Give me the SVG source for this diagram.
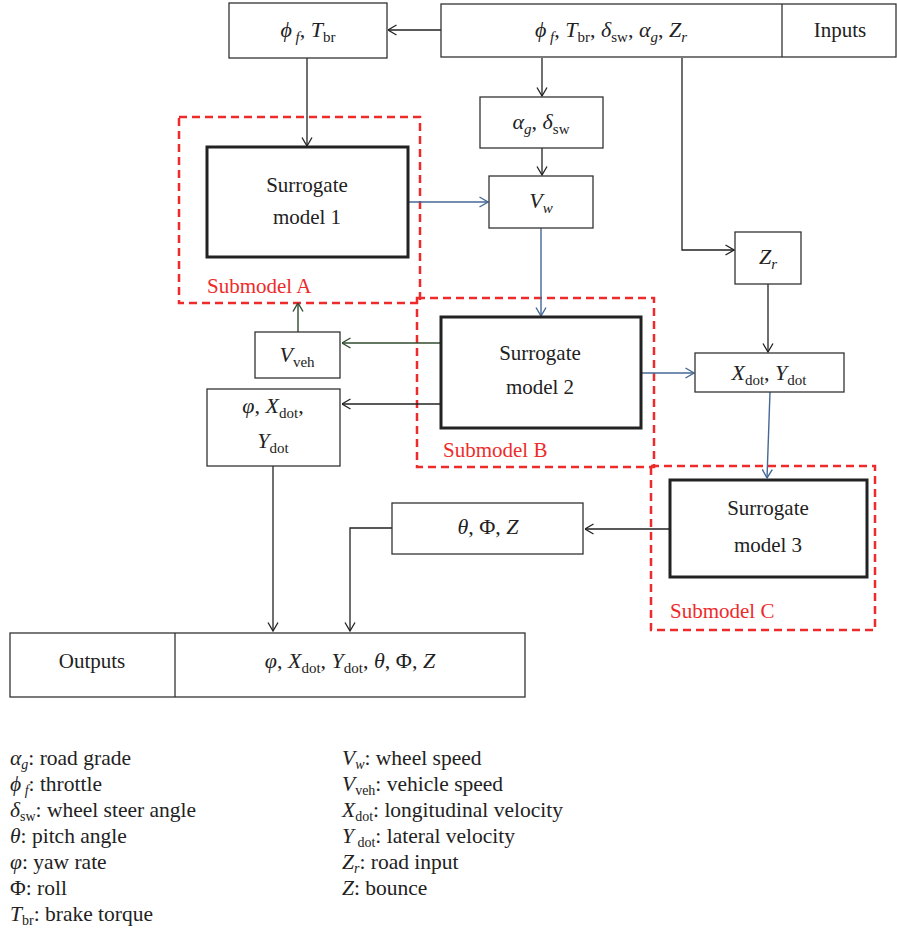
<svg xmlns="http://www.w3.org/2000/svg" width="897" height="934" viewBox="0 0 897 934">
<defs>
<style>
text{font-family:"Liberation Serif","DejaVu Serif",serif;font-size:21px;fill:#222}
.f{font-size:22px}
.i{font-style:italic}
.s{font-size:15px}
.ls{font-size:14px}
.box{fill:#fff;stroke:#333;stroke-width:1.3}
.thick{fill:#fff;stroke:#222;stroke-width:3}
.sub{fill:none;stroke:#ee2b2b;stroke-width:2.5;stroke-dasharray:8,5}
.lbl{fill:#ee2b2b;font-size:21px}
.k{fill:none;stroke:#222;stroke-width:1.3}
.b{fill:none;stroke:#466896;stroke-width:1.4}
.g{fill:none;stroke:#2f4a2f;stroke-width:1.4}
.leg{font-size:21.5px}
</style>
<marker id="ak" viewBox="0 0 10 12" refX="9.5" refY="6" markerWidth="10" markerHeight="12" markerUnits="userSpaceOnUse" orient="auto"><path d="M1,1 L9.5,6 L1,11" fill="none" stroke="#222" stroke-width="1.3"/></marker>
<marker id="ab" viewBox="0 0 10 12" refX="9.5" refY="6" markerWidth="10" markerHeight="12" markerUnits="userSpaceOnUse" orient="auto"><path d="M1,1 L9.5,6 L1,11" fill="none" stroke="#466896" stroke-width="1.4"/></marker>
<marker id="ag" viewBox="0 0 10 12" refX="9.5" refY="6" markerWidth="10" markerHeight="12" markerUnits="userSpaceOnUse" orient="auto"><path d="M1,1 L9.5,6 L1,11" fill="none" stroke="#2f4a2f" stroke-width="1.4"/></marker>
</defs>
<rect width="897" height="934" fill="#fff"/>

<g id="submodels">
<rect class="sub" x="179" y="117" width="241" height="186"/>
<text class="lbl" x="207" y="293">Submodel A</text>
<rect class="sub" x="417" y="298" width="237" height="169"/>
<text class="lbl" x="443" y="457">Submodel B</text>
<rect class="sub" x="651" y="466" width="224" height="164"/>
<text class="lbl" x="670" y="618">Submodel C</text>
</g>

<g id="connectors">
<path class="k" d="M441,30 H388" marker-end="url(#ak)"/>
<path class="k" d="M307,58 V146" marker-end="url(#ak)"/>
<path class="k" d="M542,58 V96" marker-end="url(#ak)"/>
<path class="k" d="M542,148 V175" marker-end="url(#ak)"/>
<path class="k" d="M682,58 V250 H734" marker-end="url(#ak)"/>
<path class="b" d="M408,202 H488" marker-end="url(#ab)"/>
<path class="b" d="M541,228 V316" marker-end="url(#ab)"/>
<path class="g" d="M441,343 H342" marker-end="url(#ag)"/>
<path class="g" d="M298,332 V303" marker-end="url(#ag)"/>
<path class="k" d="M441,404 H342" marker-end="url(#ak)"/>
<path class="b" d="M641,373 H694" marker-end="url(#ab)"/>
<path class="k" d="M768,284 V352" marker-end="url(#ak)"/>
<path class="b" d="M770,392 L767,478" marker-end="url(#ab)"/>
<path class="k" d="M670,529 H585" marker-end="url(#ak)"/>
<path class="k" d="M392,528 H350 V631" marker-end="url(#ak)"/>
<path class="k" d="M273,466 V631" marker-end="url(#ak)"/>
</g>

<g id="phi-tbr">
<rect class="box" x="229" y="3" width="158" height="55"/>
<text class="f" x="308" y="37" text-anchor="middle"><tspan class="i">ϕ</tspan><tspan class="i s" dy="5"> f</tspan><tspan dy="-5">, </tspan><tspan class="i">T</tspan><tspan class="s" dy="5">br</tspan></text>
</g>

<g id="inputs">
<rect class="box" x="441" y="4" width="455" height="53"/>
<line class="box" x1="782" y1="4" x2="782" y2="57"/>
<text class="f" x="611" y="37" text-anchor="middle"><tspan class="i">ϕ</tspan><tspan class="i s" dy="5"> f</tspan><tspan dy="-5">, </tspan><tspan class="i">T</tspan><tspan class="s" dy="5">br</tspan><tspan dy="-5">, </tspan><tspan class="i">δ</tspan><tspan class="s" dy="5">sw</tspan><tspan dy="-5">, </tspan><tspan class="i">α</tspan><tspan class="i s" dy="5">g</tspan><tspan dy="-5">, </tspan><tspan class="i">Z</tspan><tspan class="i s" dy="5">r</tspan></text>
<text x="840" y="37" text-anchor="middle">Inputs</text>
</g>

<g id="alpha-delta">
<rect class="box" x="480" y="97" width="123" height="51"/>
<text class="f" x="541" y="129" text-anchor="middle"><tspan class="i">α</tspan><tspan class="i s" dy="5">g</tspan><tspan dy="-5">, </tspan><tspan class="i">δ</tspan><tspan class="s" dy="5">sw</tspan></text>
</g>

<g id="vw">
<rect class="box" x="489" y="176" width="104" height="52"/>
<text class="f" x="541" y="208" text-anchor="middle"><tspan class="i">V</tspan><tspan class="i s" dy="5">w</tspan></text>
</g>

<g id="zr">
<rect class="box" x="735" y="232" width="66" height="52"/>
<text class="f" x="768" y="264" text-anchor="middle"><tspan class="i">Z</tspan><tspan class="i s" dy="5">r</tspan></text>
</g>

<g id="sm1">
<rect class="thick" x="207" y="147" width="201" height="110"/>
<text x="307" y="192" text-anchor="middle">Surrogate</text>
<text x="307" y="224" text-anchor="middle">model 1</text>
</g>

<g id="sm2">
<rect class="thick" x="441" y="317" width="200" height="111"/>
<text x="540" y="360" text-anchor="middle">Surrogate</text>
<text x="540" y="394" text-anchor="middle">model 2</text>
</g>

<g id="vveh">
<rect class="box" x="255" y="332" width="85" height="46"/>
<text class="f" x="297" y="362" text-anchor="middle"><tspan class="i">V</tspan><tspan class="s" dy="5">veh</tspan></text>
</g>

<g id="phi-xy">
<rect class="box" x="207" y="389" width="133" height="77"/>
<text class="f" x="273" y="413" text-anchor="middle"><tspan class="i">φ</tspan><tspan>, </tspan><tspan class="i">X</tspan><tspan class="s" dy="5">dot</tspan><tspan dy="-5">,</tspan></text>
<text class="f" x="273" y="448" text-anchor="middle"><tspan class="i">Y</tspan><tspan class="s" dy="5">dot</tspan></text>
</g>

<g id="xydot">
<rect class="box" x="695" y="353" width="149" height="39"/>
<text class="f" x="769" y="380" text-anchor="middle"><tspan class="i">X</tspan><tspan class="s" dy="5">dot</tspan><tspan dy="-5">, </tspan><tspan class="i">Y</tspan><tspan class="s" dy="5">dot</tspan></text>
</g>

<g id="sm3">
<rect class="thick" x="670" y="480" width="197" height="97"/>
<text x="768" y="515" text-anchor="middle">Surrogate</text>
<text x="768" y="552" text-anchor="middle">model 3</text>
</g>

<g id="theta">
<rect class="box" x="392" y="503" width="191" height="51"/>
<text class="f" x="488" y="534" text-anchor="middle"><tspan class="i">θ</tspan><tspan>, Φ, </tspan><tspan class="i">Z</tspan></text>
</g>

<g id="outputs">
<rect class="box" x="10" y="633" width="515" height="64"/>
<line class="box" x1="175" y1="633" x2="175" y2="697"/>
<text x="92" y="668" text-anchor="middle">Outputs</text>
<text class="f" x="350" y="668" text-anchor="middle"><tspan class="i">φ</tspan><tspan>, </tspan><tspan class="i">X</tspan><tspan class="s" dy="5">dot</tspan><tspan dy="-5">, </tspan><tspan class="i">Y</tspan><tspan class="s" dy="5">dot</tspan><tspan dy="-5">, </tspan><tspan class="i">θ</tspan><tspan>, Φ, </tspan><tspan class="i">Z</tspan></text>
</g>

<g id="legend">
<text class="leg" x="10" y="765"><tspan class="i">α</tspan><tspan class="i ls" dy="4">g</tspan><tspan dy="-4">: road grade</tspan></text>
<text class="leg" x="10" y="791"><tspan class="i">ϕ</tspan><tspan class="i ls" dy="4"> f</tspan><tspan dy="-4">: throttle</tspan></text>
<text class="leg" x="10" y="817"><tspan class="i">δ</tspan><tspan class="ls" dy="4">sw</tspan><tspan dy="-4">: wheel steer angle</tspan></text>
<text class="leg" x="10" y="843"><tspan class="i">θ</tspan><tspan>: pitch angle</tspan></text>
<text class="leg" x="10" y="869"><tspan class="i">φ</tspan><tspan>: yaw rate</tspan></text>
<text class="leg" x="10" y="895">Φ: roll</text>
<text class="leg" x="10" y="921"><tspan class="i">T</tspan><tspan class="ls" dy="4">br</tspan><tspan dy="-4">: brake torque</tspan></text>
<text class="leg" x="342" y="765"><tspan class="i">V</tspan><tspan class="i ls" dy="4">w</tspan><tspan dy="-4">: wheel speed</tspan></text>
<text class="leg" x="342" y="791"><tspan class="i">V</tspan><tspan class="ls" dy="4">veh</tspan><tspan dy="-4">: vehicle speed</tspan></text>
<text class="leg" x="342" y="817"><tspan class="i">X</tspan><tspan class="ls" dy="4">dot</tspan><tspan dy="-4">: longitudinal velocity</tspan></text>
<text class="leg" x="342" y="843"><tspan class="i">Y</tspan><tspan class="ls" dy="4"> dot</tspan><tspan dy="-4">: lateral velocity</tspan></text>
<text class="leg" x="342" y="869"><tspan class="i">Z</tspan><tspan class="i ls" dy="4">r</tspan><tspan dy="-4">: road input</tspan></text>
<text class="leg" x="342" y="895"><tspan class="i">Z</tspan><tspan>: bounce</tspan></text>
</g>
</svg>
